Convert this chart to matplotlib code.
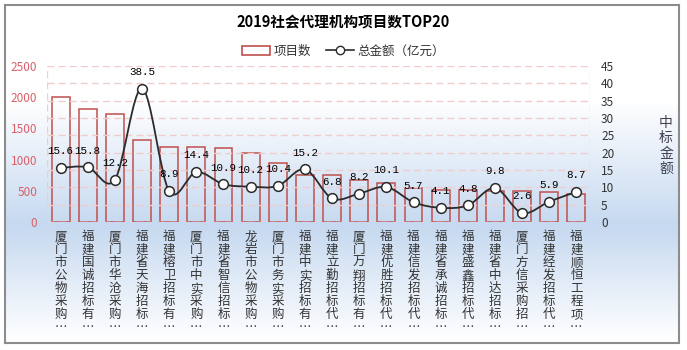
import numpy as np
import matplotlib
matplotlib.use("Agg")
import matplotlib.pyplot as plt
from matplotlib.path import Path
from matplotlib.patches import PathPatch, Patch
from matplotlib.lines import Line2D
from matplotlib.colors import to_rgb

plt.rcParams['font.family'] = ['Noto Sans CJK SC', 'DejaVu Sans']

# ---------------- data ----------------
title = "2019社会代理机构项目数TOP20"
categories = [
    "厦门市公物采购…", "福建国诚招标有…", "厦门市华沧采购…", "福建省天海招标…",
    "福建榕卫招标有…", "厦门市中实采购…", "福建省智信招标…", "龙岩市公物采购…",
    "厦门市务实采购…", "福建中实招标有…", "福建立勤招标代…", "厦门万翔招标有…",
    "福建优胜招标代…", "福建信发招标代…", "福建省承诚招标…", "福建盛鑫招标代…",
    "福建省中达招标…", "厦门方信采购招…", "福建经发招标代…", "福建顺恒工程项…",
]
project_counts = [2000, 1805, 1725, 1320, 1195, 1195, 1180, 1100, 940, 750,
                  750, 680, 620, 550, 520, 505, 495, 495, 475, 455]
total_amount = [15.6, 15.8, 12.2, 38.5, 8.9, 14.4, 10.9, 10.2, 10.4, 15.2,
                6.8, 8.2, 10.1, 5.7, 4.1, 4.8, 9.8, 2.6, 5.9, 8.7]
legend_labels = ["项目数", "总金额（亿元）"]
right_axis_label = "中标金额"
left_ticks = [0, 500, 1000, 1500, 2000, 2500]
right_ticks = [0, 5, 10, 15, 20, 25, 30, 35, 40, 45]

# ---------------- styles ----------------
W, H = 687, 350
bar_color = '#c0504d'
grid_color = '#f0cccc'
left_tick_color = '#d9606a'
text_color = '#333333'
blue = np.array(to_rgb('#c6d9f0'))
white = np.array([1.0, 1.0, 1.0])

fig = plt.figure(figsize=(W / 100, H / 100), dpi=100)
fig.patch.set_facecolor('white')

# background with border and vertical gradient
bx0, by0, bx1, by1 = 5, 5, 679, 343
bg = fig.add_axes([bx0 / W, 1 - by1 / H, (bx1 - bx0) / W, (by1 - by0) / H], zorder=-10)
ys = np.arange(by0, by1)
def grad(y):
    if y <= 100:
        return 0.0
    if y <= 225:
        return (y - 100) / 125
    return max(0.0, 1 - (y - 225) / 115)
img = np.array([[white + (blue - white) * grad(y)] for y in ys])
bg.imshow(img, aspect='auto', extent=(0, 1, 0, 1))
bg.set_xticks([]); bg.set_yticks([])
for s in bg.spines.values():
    s.set_color('#8c8c8c'); s.set_linewidth(1.5)

# main axes
px0, px1, py0, py1 = 47, 590, 66, 222
ax = fig.add_axes([px0 / W, 1 - py1 / H, (px1 - px0) / W, (py1 - py0) / H])
ax.set_facecolor('none')
x = np.arange(len(categories))
ax.bar(x, project_counts, width=0.66, facecolor='none', edgecolor=bar_color,
       linewidth=1.1, zorder=3)
ax.set_xlim(-0.5, len(categories) - 0.5)
ax.set_ylim(0, 2500)
ax.set_yticks(left_ticks)
ax.tick_params(axis='y', length=0, pad=7, labelsize=8.5, labelcolor=left_tick_color)
ax.set_xticks(x)
ax.set_xticklabels(['\n'.join(list(c)) for c in categories], fontsize=9,
                   color=text_color, linespacing=1.0)
ax.tick_params(axis='x', length=0, pad=6)
for s in ax.spines.values():
    s.set_visible(False)

ax2 = ax.twinx()
ax2.set_ylim(0, 45)
ax2.set_yticks(right_ticks)
ax2.tick_params(axis='y', length=0, pad=8, labelsize=8.5, labelcolor=text_color)
for s in ax2.spines.values():
    s.set_visible(False)
dash = (0, (5, 3))
for t in right_ticks:
    ax2.axhline(t, color=grid_color, lw=1, ls=dash, zorder=1)
ax2.axvline(-0.5, color=grid_color, lw=1, ls=dash, zorder=1)
ax2.axvline(len(categories) - 0.5, color=grid_color, lw=1, ls=dash, zorder=1)

# smoothed line through the points (Catmull-Rom rendered as Bezier path)
pts = np.column_stack([x, total_amount]).astype(float)
verts = [tuple(pts[0])]
codes = [Path.MOVETO]
n = len(pts)
for i in range(n - 1):
    p0 = pts[max(i - 1, 0)]
    p1 = pts[i]
    p2 = pts[i + 1]
    p3 = pts[min(i + 2, n - 1)]
    c1 = p1 + (p2 - p0) / 6
    c2 = p2 - (p3 - p1) / 6
    verts += [tuple(c1), tuple(c2), tuple(p2)]
    codes += [Path.CURVE4, Path.CURVE4, Path.CURVE4]
ax2.add_patch(PathPatch(Path(verts, codes), facecolor='none', edgecolor='#2b2b2b',
                        lw=1.3, zorder=5))
ax2.plot(x, total_amount, ls='none', marker='o', ms=7, mfc='white', mec='#2b2b2b',
         mew=1.1, zorder=6)
for xi, v in zip(x, total_amount):
    ax2.annotate(f"{v}", (xi, v), xytext=(0, 12), textcoords='offset points',
                 ha='center', va='center', fontsize=7.8, family='Liberation Mono',
                 color='black', zorder=7)

# title
fig.text(0.5, 1 - 22 / H, title, ha='center', va='center', fontsize=10.5,
         fontweight='bold', color='black')

# legend
handles = [Patch(facecolor='white', edgecolor=bar_color, lw=1.2),
           Line2D([0], [0], color='#2b2b2b', lw=1.2, marker='o', ms=6,
                  mfc='white', mec='#2b2b2b')]
fig.legend(handles, legend_labels, loc='center', bbox_to_anchor=(0.5, 1 - 51 / H),
           ncol=2, frameon=False, fontsize=9, handlelength=2.2, handletextpad=0.3,
           columnspacing=1.2, labelcolor=text_color)

# right axis label (stacked characters)
fig.text(666 / W, 1 - 146 / H, '\n'.join(list(right_axis_label)), ha='center',
         va='center', fontsize=10, color='#404050', linespacing=1.1)

fig.savefig('out.png', dpi=100)
